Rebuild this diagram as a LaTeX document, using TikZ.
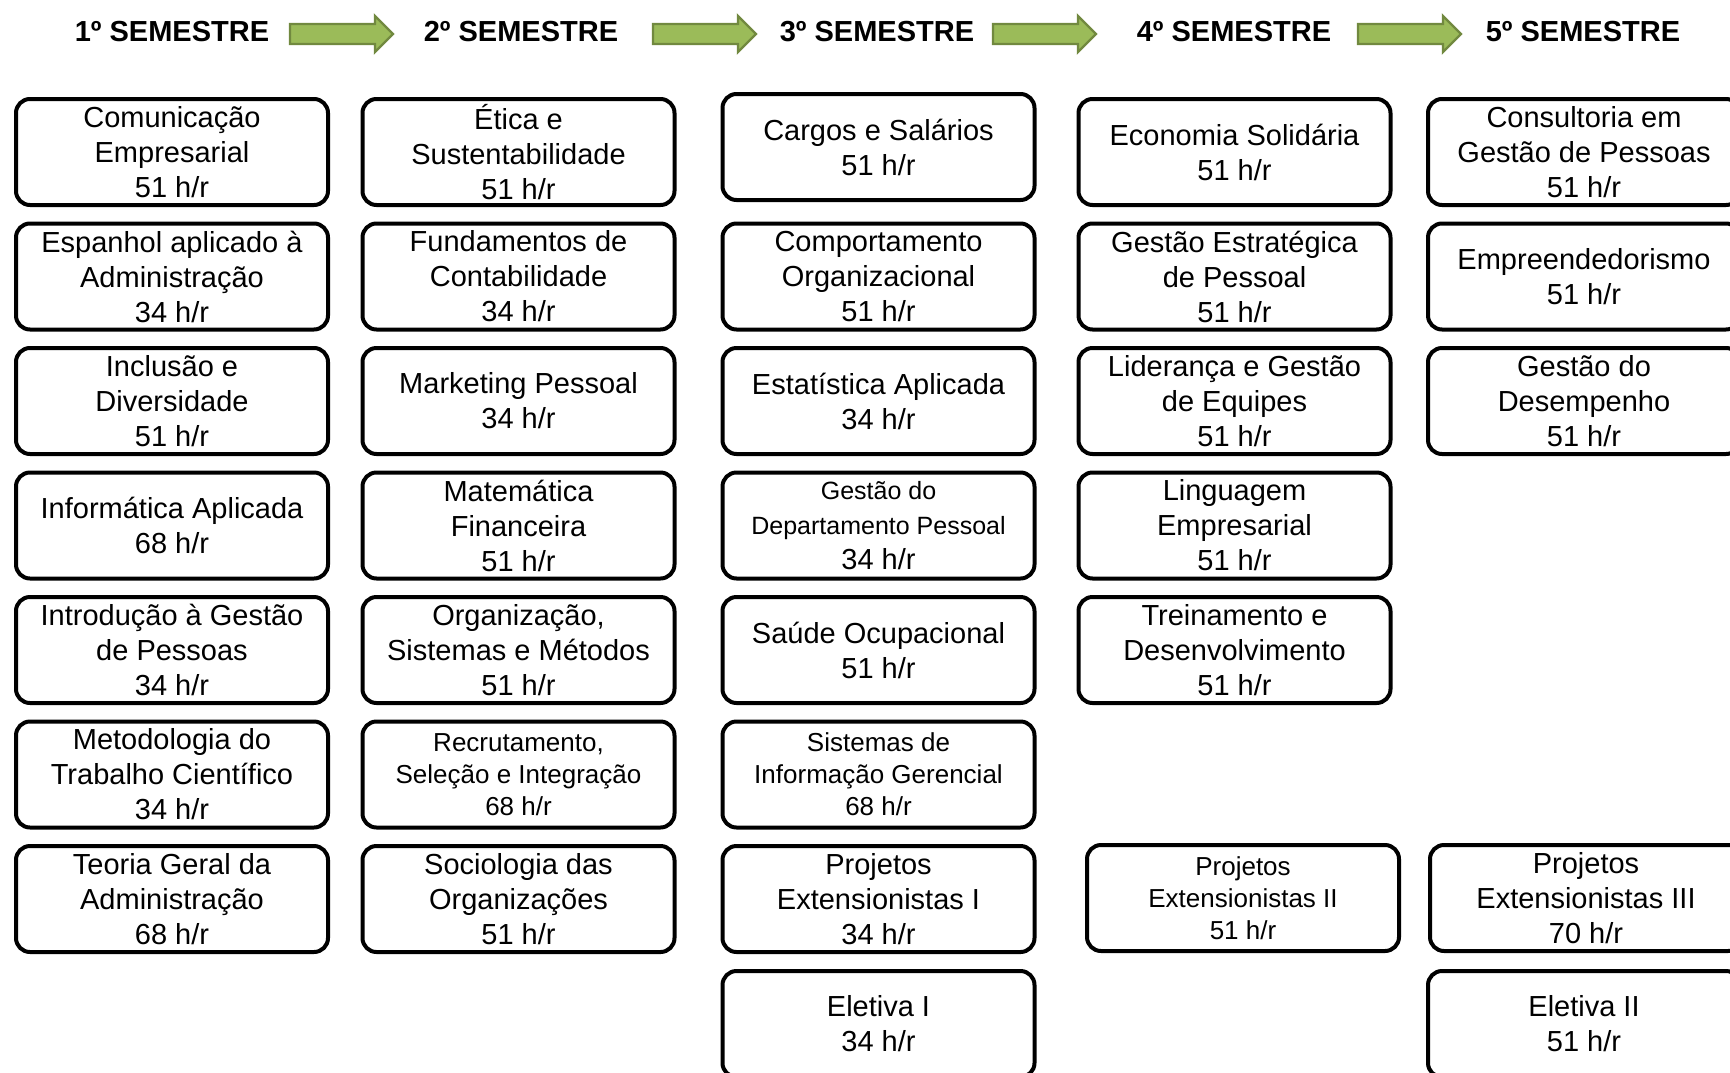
\documentclass[tikz,border=0pt]{standalone}
\usepackage{fontspec}
\setmainfont{Liberation Sans}
\definecolor{setaverde}{RGB}{155,187,89}
\definecolor{setaborda}{RGB}{113,137,63}

\tikzset{
  semestre/.style={inner sep=0pt, font=\bfseries\fontsize{14.5}{17}\selectfont},
  disciplina/.style={draw, line width=2pt, rounded corners=7pt, minimum width=156pt,
    minimum height=53pt, align=center, inner sep=1pt, font=\fontsize{14.5}{17.5}\selectfont},
  disciplinapeq/.style={disciplina, font=\fontsize{13}{16}\selectfont},
  pics/seta/.style={code={
    \draw[fill=setaverde, draw=setaborda, line width=1.2pt, line join=miter]
      (0,-10) -- (85,-10) -- (85,-18) -- (103,0) -- (85,18) -- (85,10) -- (0,10) -- cycle;}}
}
\newcommand{\menor}{\fontsize{12.5}{15}\selectfont}
\newcommand{\normal}{\fontsize{14.5}{16.5}\selectfont}

\begin{document}
\begin{tikzpicture}[x=0.5pt, y=-0.5pt]
  \fill[white] (0,0) rectangle (1730,1072);
  \useasboundingbox (0,0) rectangle (1730,1072);

  % semestres
  \node[semestre] (sem1) at (172,32) {1º SEMESTRE};
  \node[semestre] (sem2) at (521,32) {2º SEMESTRE};
  \node[semestre] (sem3) at (877,32) {3º SEMESTRE};
  \node[semestre] (sem4) at (1234,32) {4º SEMESTRE};
  \node[semestre] (sem5) at (1583,32) {5º SEMESTRE};
  \pic at (290,34) {seta};
  \pic at (653,34) {seta};
  \pic at (993,34) {seta};
  \pic at (1358,34) {seta};

  % 1o semestre
  \node[disciplina] (s1a) at (172,152) {Comunicação\\Empresarial\\51 h/r};
  \node[disciplina] (s1b) at (172,276.5) {Espanhol aplicado à\\Administração\\34 h/r};
  \node[disciplina] (s1c) at (172,401) {Inclusão e\\Diversidade\\51 h/r};
  \node[disciplina] (s1d) at (172,525.5) {Informática Aplicada\\68 h/r};
  \node[disciplina] (s1e) at (172,650) {Introdução à Gestão\\de Pessoas\\34 h/r};
  \node[disciplina] (s1f) at (172,774.5) {Metodologia do\\Trabalho Científico\\34 h/r};
  \node[disciplina] (s1g) at (172,899) {Teoria Geral da\\Administração\\68 h/r};

  % 2o semestre
  \node[disciplina] (s2a) at (518.5,152) {Ética e\\Sustentabilidade\\51 h/r};
  \node[disciplina] (s2b) at (518.5,276.5) {Fundamentos de\\Contabilidade\\34 h/r};
  \node[disciplina] (s2c) at (518.5,401) {Marketing Pessoal\\34 h/r};
  \node[disciplina] (s2d) at (518.5,525.5) {Matemática\\Financeira\\51 h/r};
  \node[disciplina] (s2e) at (518.5,650) {Organização,\\Sistemas e Métodos\\51 h/r};
  \node[disciplinapeq] (s2f) at (518.5,774.5) {Recrutamento,\\Seleção e Integração\\68 h/r};
  \node[disciplina] (s2g) at (518.5,899) {Sociologia das\\Organizações\\51 h/r};

  % 3o semestre
  \node[disciplina] (s3a) at (878.5,147) {Cargos e Salários\\51 h/r};
  \node[disciplina] (s3b) at (878.5,276.5) {Comportamento\\Organizacional\\51 h/r};
  \node[disciplina] (s3c) at (878.5,401) {Estatística Aplicada\\34 h/r};
  \node[disciplina] (s3d) at (878.5,525.5) {\menor Gestão do\\\menor Departamento Pessoal\\\normal 34 h/r};
  \node[disciplina] (s3e) at (878.5,650) {Saúde Ocupacional\\51 h/r};
  \node[disciplinapeq] (s3f) at (878.5,774.5) {Sistemas de\\Informação Gerencial\\68 h/r};
  \node[disciplina] (s3g) at (878.5,899) {Projetos\\Extensionistas I\\34 h/r};
  \node[disciplina] (s3h) at (878.5,1024) {Eletiva I\\34 h/r};

  % 4o semestre
  \node[disciplina] (s4a) at (1234.5,152) {Economia Solidária\\51 h/r};
  \node[disciplina] (s4b) at (1234.5,276.5) {Gestão Estratégica\\de Pessoal\\51 h/r};
  \node[disciplina] (s4c) at (1234.5,401) {Liderança e Gestão\\de Equipes\\51 h/r};
  \node[disciplina] (s4d) at (1234.5,525.5) {Linguagem\\Empresarial\\51 h/r};
  \node[disciplina] (s4e) at (1234.5,650) {Treinamento e\\Desenvolvimento\\51 h/r};
  \node[disciplinapeq] (s4f) at (1243,898) {Projetos\\Extensionistas II\\51 h/r};

  % 5o semestre
  \node[disciplina] (s5a) at (1584,152) {Consultoria em\\Gestão de Pessoas\\51 h/r};
  \node[disciplina] (s5b) at (1584,276.5) {Empreendedorismo\\51 h/r};
  \node[disciplina] (s5c) at (1584,401) {Gestão do\\Desempenho\\51 h/r};
  \node[disciplina] (s5d) at (1586,898) {Projetos\\Extensionistas III\\70 h/r};
  \node[disciplina] (s5e) at (1584,1024) {Eletiva II\\51 h/r};
\end{tikzpicture}
\end{document}
